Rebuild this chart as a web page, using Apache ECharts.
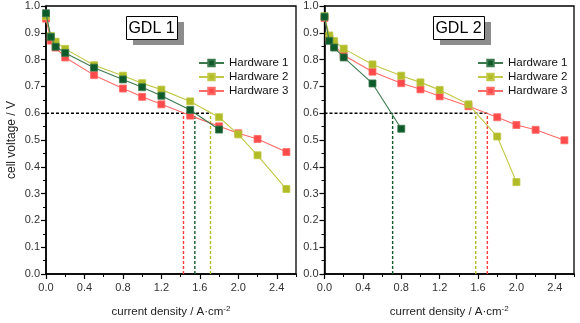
<!DOCTYPE html>
<html><head><meta charset="utf-8">
<script src="https://cdn.jsdelivr.net/npm/echarts@6/dist/echarts.min.js"></script>
<style>html,body{margin:0;padding:0;background:#fff}#c{width:580px;height:323px}</style>
</head><body><div id="c"></div>
<script>
// ---- data ----
const seriesNames = ['Hardware 1', 'Hardware 2', 'Hardware 3'];
const panelTitles = ['GDL 1', 'GDL 2'];
// GDL 1
const g1_hw1_x = [0, 0.05, 0.1, 0.2, 0.5, 0.8, 1.0, 1.2, 1.5, 1.8];
const g1_hw1_y = [0.973, 0.885, 0.848, 0.825, 0.770, 0.726, 0.697, 0.665, 0.612, 0.539];
const g1_hw2_x = [0, 0.05, 0.1, 0.2, 0.5, 0.8, 1.0, 1.2, 1.5, 1.8, 2.0, 2.2, 2.5];
const g1_hw2_y = [0.962, 0.888, 0.867, 0.840, 0.779, 0.740, 0.712, 0.688, 0.644, 0.585, 0.521, 0.443, 0.317];
const g1_hw3_x = [0, 0.05, 0.1, 0.2, 0.5, 0.8, 1.0, 1.2, 1.5, 1.8, 2.0, 2.2, 2.5];
const g1_hw3_y = [0.953, 0.871, 0.845, 0.808, 0.742, 0.692, 0.661, 0.633, 0.591, 0.551, 0.525, 0.504, 0.455];
const g1_cross = [1.548, 1.711, 1.43];   // current density at 0.6 V (HW1, HW2, HW3)
// GDL 2
const g2_hw1_x = [0, 0.05, 0.1, 0.2, 0.5, 0.8];
const g2_hw1_y = [0.960, 0.870, 0.845, 0.808, 0.711, 0.542];
const g2_hw2_x = [0, 0.05, 0.1, 0.2, 0.5, 0.8, 1.0, 1.2, 1.5, 1.8, 2.0];
const g2_hw2_y = [0.962, 0.890, 0.869, 0.841, 0.782, 0.740, 0.715, 0.687, 0.633, 0.513, 0.343];
const g2_hw3_x = [0, 0.05, 0.1, 0.2, 0.5, 0.8, 1.0, 1.2, 1.5, 1.8, 2.0, 2.2, 2.5];
const g2_hw3_y = [0.955, 0.879, 0.854, 0.816, 0.755, 0.712, 0.689, 0.663, 0.626, 0.585, 0.556, 0.538, 0.499];
const g2_cross = [0.71, 1.576, 1.697];
const refVoltage = 0.6;
const xTicks = [0, 0.4, 0.8, 1.2, 1.6, 2.0, 2.4];

// ---- styles ----
const colors = ['#0f5a2a', '#b2bc26', '#ff4b4b'];
const lineColors = ['#3c7a4e', '#c0c845', '#ff6b66'];
const dashColors = ['#0f5a2a', '#b2bc26', '#ff3b3b'];
const FONT = 'Liberation Sans';

const zip = (xs, ys) => xs.map((x, i) => [x, ys[i]]);
const panels = [
  { data: [zip(g1_hw1_x, g1_hw1_y), zip(g1_hw2_x, g1_hw2_y), zip(g1_hw3_x, g1_hw3_y)], cross: g1_cross },
  { data: [zip(g2_hw1_x, g2_hw1_y), zip(g2_hw2_x, g2_hw2_y), zip(g2_hw3_x, g2_hw3_y)], cross: g2_cross }
];

const grids = [
  { left: 46, right: 284, top: 6, bottom: 42 },
  { left: 324.5, right: 6, top: 6, bottom: 42 }
];

const xAxes = [], yAxes = [], series = [];
grids.forEach((g, gi) => {
  Object.assign(g, { show: true, borderColor: '#000', borderWidth: 1.3, backgroundColor: 'transparent' });
  xAxes.push({
    type: 'value', gridIndex: gi, min: 0, max: 2.6, interval: 0.4,
    name: 'current density / A·cm{sup|-2}', nameLocation: 'middle', nameGap: 31,
    nameTextStyle: { fontFamily: FONT, fontSize: 11.5, color: '#222',
      rich: { sup: { fontSize: 8, verticalAlign: 'top', padding: [0, 0, 6, 0], fontFamily: FONT, color: '#222' } } },
    axisLine: { show: true, onZero: false, lineStyle: { color: '#000', width: 1.6 } },
    axisTick: { show: true, inside: false, length: 5, lineStyle: { color: '#000', width: 1.2 },
      customValues: xTicks },
    minorTick: { show: true, splitNumber: 2, length: 3, lineStyle: { color: '#000', width: 1 } },
    axisLabel: { fontFamily: FONT, fontSize: 11, color: '#333', margin: 8,
      customValues: xTicks, formatter: v => v.toFixed(1) },
    splitLine: { show: false }
  });
  yAxes.push({
    type: 'value', gridIndex: gi, min: 0, max: 1.0, interval: 0.1,
    name: gi === 0 ? 'cell voltage / V' : '', nameLocation: 'middle', nameGap: 28,
    nameTextStyle: { fontFamily: FONT, fontSize: 12, color: '#222' },
    axisLine: { show: true, onZero: false, lineStyle: { color: '#000', width: 1.6 } },
    axisTick: { show: true, inside: false, length: 5, lineStyle: { color: '#000', width: 1.2 } },
    minorTick: { show: true, splitNumber: 2, length: 3, lineStyle: { color: '#000', width: 1 } },
    axisLabel: { fontFamily: FONT, fontSize: 11, color: '#333', margin: 6,
      formatter: v => v.toFixed(1) },
    splitLine: { show: false }
  });
  const p = panels[gi];
  const xmax = Math.max(...p.cross);
  series.push({
    name: 'ref-h-' + gi, type: 'line', xAxisIndex: gi, yAxisIndex: gi, silent: true, symbol: 'none', z: 1,
    data: [[0, refVoltage], [xmax, refVoltage]],
    lineStyle: { color: '#000', width: 1.4, type: [3, 2] }
  });
  p.cross.forEach((cx, si) => {
    series.push({
      name: 'ref-v-' + gi + '-' + si, type: 'line', xAxisIndex: gi, yAxisIndex: gi, silent: true, symbol: 'none', z: 1,
      data: [[cx, 0], [cx, refVoltage]],
      lineStyle: { color: dashColors[si], width: 1.4, type: [3, 2] }
    });
  });
  p.data.forEach((d, si) => {
    series.push({
      name: seriesNames[si], type: 'line', xAxisIndex: gi, yAxisIndex: gi, z: 3 + (si === 0 ? 2 : si === 1 ? 1 : 0),
      data: d, symbol: 'rect', symbolSize: 7, showSymbol: true,
      itemStyle: { color: colors[si], borderColor: lineColors[si], borderWidth: 0.8 },
      lineStyle: { color: lineColors[si], width: 1.1 },
      emphasis: { disabled: true }
    });
  });
});

const legendBase = {
  data: seriesNames, orient: 'vertical', itemWidth: 25, itemHeight: 8, itemGap: 0,
  textStyle: { fontFamily: FONT, fontSize: 11.5, lineHeight: 14, color: '#111' },
  selectedMode: false
};

function titleBox(x, y, text) {
  const w = 51, h = 23;
  return [
    { type: 'rect', left: x + 7, top: y + 6, shape: { width: w, height: h }, style: { fill: '#8c8c8c' }, z: 10 },
    { type: 'rect', left: x, top: y, shape: { width: w, height: h }, style: { fill: '#fff', stroke: '#000', lineWidth: 1 }, z: 11 },
    { type: 'text', x: x + w / 2, y: y + h / 2 + 1, style: { text: text, fontFamily: FONT, fontSize: 16, fill: '#000', align: 'center', verticalAlign: 'middle' }, z: 12 }
  ];
}

const chart = echarts.init(document.getElementById('c'), null, { renderer: 'canvas' });
chart.setOption({
  animation: false,
  grid: grids,
  xAxis: xAxes,
  yAxis: yAxes,
  legend: [
    Object.assign({}, legendBase, { left: 193, top: 51 }),
    Object.assign({}, legendBase, { left: 472, top: 51 })
  ],
  graphic: [...titleBox(126, 16, panelTitles[0]), ...titleBox(433, 16, panelTitles[1])],
  series: series
});
</script></body></html>
